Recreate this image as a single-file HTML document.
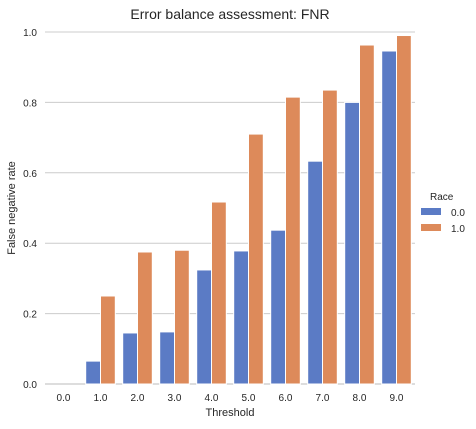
<!DOCTYPE html>
<html><head><meta charset="utf-8"><style>
body{margin:0;background:#fff;font-family:"Liberation Sans",sans-serif;}
svg text{font-family:"Liberation Sans",sans-serif;fill:#262626;}
</style></head><body>
<svg id="chart" width="476" height="424" xmlns="http://www.w3.org/2000/svg">
<text x="230" y="19" font-size="14" text-anchor="middle">Error balance assessment: FNR</text>
<g id="grid"></g>
<g id="bars"></g>
<g id="xticks"></g>
<text x="230" y="416" font-size="11" text-anchor="middle">Threshold</text>
<text transform="translate(15,208) rotate(-90)" font-size="11" text-anchor="middle">False negative rate</text>
<g>
<text x="430" y="200" font-size="10">Race</text>
<rect x="421" y="208" width="20" height="7" fill="#5b7bc5"/>
<text x="451" y="216" font-size="10">0.0</text>
<rect x="421" y="224" width="20" height="7" fill="#dd8a5a"/>
<text x="451" y="232" font-size="10">1.0</text>
</g>
</svg>
<script>
const categories=["0.0","1.0","2.0","3.0","4.0","5.0","6.0","7.0","8.0","9.0"];
const race0=[0,0.065,0.145,0.148,0.324,0.378,0.437,0.633,0.80,0.946];
const race1=[0,0.25,0.375,0.38,0.517,0.71,0.815,0.835,0.963,0.99];
const yTicks=[0,0.2,0.4,0.6,0.8,1.0];
const NS="http://www.w3.org/2000/svg";
const X0=45,X1=415,Y0=384,Y1=32;
const band=(X1-X0)/categories.length;
function xC(i){return X0+band*(i+0.5);}
function y(v){return Y0-(Y0-Y1)*v;}
function mk(t,a,p){const e=document.createElementNS(NS,t);for(const k in a)e.setAttribute(k,a[k]);p.appendChild(e);return e;}
const grid=document.getElementById('grid');
yTicks.forEach((t,i)=>{
 const l=mk('line',{x1:X0,x2:X1,y1:y(t),y2:y(t),stroke:t===0?'#bbbbbb':'#cccccc','stroke-width':1},grid);
 
 
 const tx=mk('text',{x:37,y:y(t)+4,'font-size':10,'text-anchor':'end'},grid);
 tx.textContent=t.toFixed(1);
 
 
});
const bars=document.getElementById('bars');
const bw=band*0.8/2;
[[race0,'#5b7bc5',0],[race1,'#dd8a5a',1]].forEach(([vals,col,s])=>{
 vals.forEach((v,i)=>{
  const x=xC(i)-band*0.4+s*bw;
  const r=mk('rect',{x:x,y:y(v),width:bw,height:Y0-y(v),fill:col,stroke:'#fff','stroke-width':1},bars);
  
  
 });
});
const xt=document.getElementById('xticks');
categories.forEach((c,i)=>{
 const t=mk('text',{x:xC(i),y:401,'font-size':10,'text-anchor':'middle'},xt);
 t.textContent=c;
 
 
});
</script>
</body></html>
